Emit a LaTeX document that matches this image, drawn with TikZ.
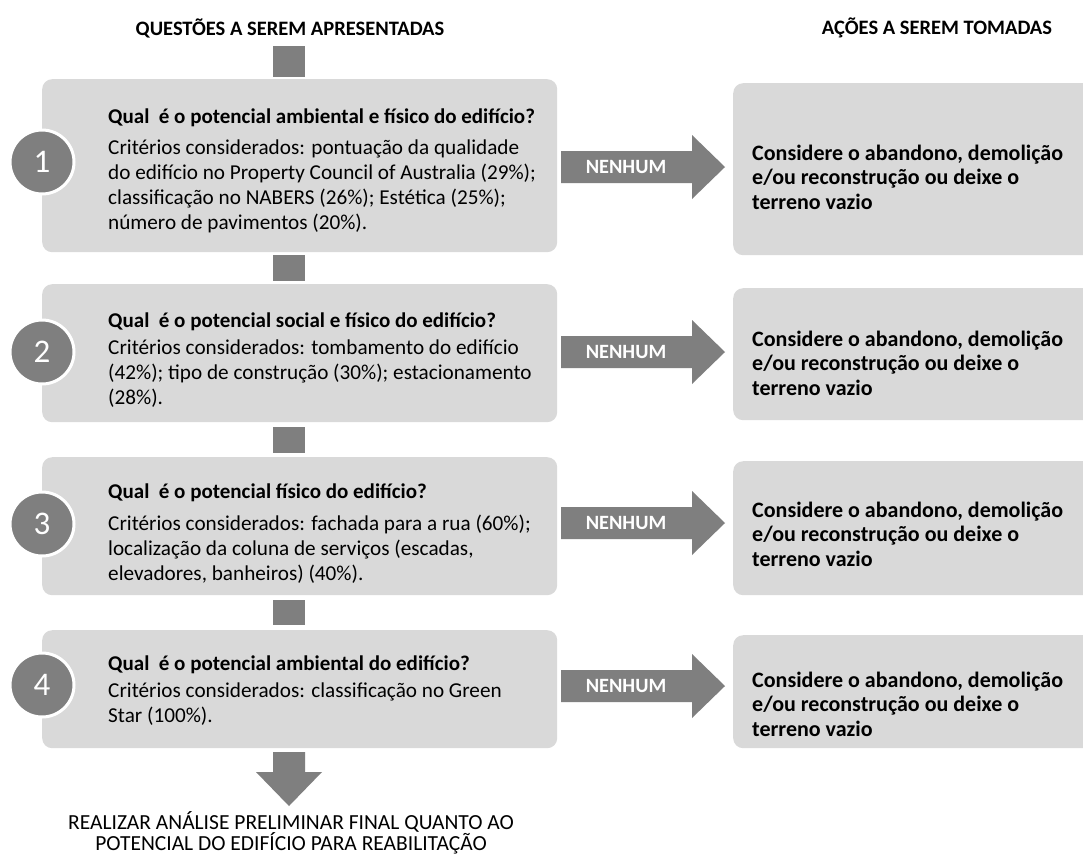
\documentclass[tikz,border=0pt]{standalone}
\usepackage{fontspec}
\setmainfont{Carlito}
\definecolor{boxgray}{HTML}{D9D9D9}
\definecolor{dgray}{HTML}{7F7F7F}
\begin{document}
\begin{tikzpicture}[x=1pt,y=-1pt,
  qbox/.style={fill=boxgray, rounded corners=10pt, inner sep=0pt, anchor=north west, minimum width=515pt},
  abox/.style={fill=boxgray, rounded corners=10pt, inner sep=0pt, anchor=north west, minimum width=362pt},
  numcircle/.style={circle, fill=dgray, draw=white, line width=3pt, minimum size=64pt, inner sep=0pt, text=white, font=\fontsize{33}{38}\selectfont},
  qtitle/.style={anchor=base west, inner sep=0pt, font=\bfseries\fontsize{21}{25}\selectfont},
  qbody/.style={anchor=north west, inner sep=0pt, align=left, font=\fontsize{21.2}{25}\selectfont},
  atext/.style={anchor=north west, inner sep=0pt, align=left, font=\bfseries\fontsize{22}{24.2}\selectfont},
  head/.style={inner sep=0pt, font=\bfseries\fontsize{20.5}{24}\selectfont},
  nenhum/.style={inner sep=0pt, text=white, font=\bfseries\fontsize{20.3}{22}\selectfont},
  conn/.style={fill=dgray}
]
\clip (0,0) rectangle (1083,857);
\fill[white] (0,0) rectangle (1083,857);

% headers
\node[head] (h1) at (290,28) {QUESTÕES A SEREM APRESENTADAS};
\node[head] (h2) at (937,28) {AÇÕES A SEREM TOMADAS};

% left boxes
\node[qbox, minimum height=173pt] (q1) at (42,79) {};
\node[qbox, minimum height=138pt] (q2) at (42,284) {};
\node[qbox, minimum height=138pt] (q3) at (42,457) {};
\node[qbox, minimum height=118pt] (q4) at (42,630) {};

% right boxes
\node[abox, minimum height=172pt] (a1) at (733,83) {};
\node[abox, minimum height=132pt] (a2) at (733,288) {};
\node[abox, minimum height=134pt] (a3) at (733,461) {};
\node[abox, minimum height=113pt] (a4) at (733,635) {};

% vertical connectors
\fill[conn] (273,46) rectangle (305,77);
\fill[conn] (273,255) rectangle (305,281);
\fill[conn] (273,427) rectangle (305,453);
\fill[conn] (273,600) rectangle (305,625);
% final down arrow
\fill[conn] (273,752) -- (305,752) -- (305,772) -- (322,772) -- (289,806) -- (256,772) -- (273,772) -- cycle;
\node[inner sep=0pt, align=center, font=\fontsize{21.5}{21.5}\selectfont] (fin) at (291,833) {REALIZAR ANÁLISE PRELIMINAR FINAL QUANTO AO\\POTENCIAL DO EDIFÍCIO PARA REABILITAÇÃO};

% circles
\node[numcircle] (c1) at (42,162) {1};
\node[numcircle] (c2) at (42,352) {2};
\node[numcircle] (c3) at (42,524) {3};
\node[numcircle] (c4) at (42,685) {4};

% question texts
\node[qtitle] (t1) at (108,123) {Qual\ \ é o potencial ambiental e físico do edifício?};
\node[qbody] (b1) at (108,140) {Critérios considerados: pontuação da qualidade\\do edifício no Property Council of Australia (29\%);\\classificação no NABERS (26\%); Estética (25\%);\\número de pavimentos (20\%).};

\node[qtitle] (t2) at (108,327) {Qual\ \ é o potencial social e físico do edifício?};
\node[qbody] (b2) at (108,340) {Critérios considerados: tombamento do edifício\\(42\%); tipo de construção (30\%); estacionamento\\(28\%).};

\node[qtitle] (t3) at (108,498) {Qual\ \ é o potencial físico do edifício?};
\node[qbody] (b3) at (108,515) {Critérios considerados: fachada para a rua (60\%);\\localização da coluna de serviços (escadas,\\elevadores, banheiros) (40\%).};

\node[qtitle] (t4) at (108,670) {Qual\ \ é o potencial ambiental do edifício?};
\node[qbody] (b4) at (108,683) {Critérios considerados: classificação no Green\\Star (100\%).};

% arrows NENHUM
\foreach \y/\n in {167/1,352/2,523/3,686/4}{
  \fill[conn] (561,\y-16) -- (692,\y-16) -- (692,\y-32) -- (725,\y) -- (692,\y+32) -- (692,\y+16) -- (561,\y+16) -- cycle;
  \node[nenhum] (n\n) at (626,\y) {NENHUM};
}

% action texts
\node[atext] (x1) at (752,145) {Considere o abandono, demolição\\e/ou reconstrução ou deixe o\\terreno vazio};
\node[atext] (x2) at (752,331) {Considere o abandono, demolição\\e/ou reconstrução ou deixe o\\terreno vazio};
\node[atext] (x3) at (752,502) {Considere o abandono, demolição\\e/ou reconstrução ou deixe o\\terreno vazio};
\node[atext] (x4) at (752,672) {Considere o abandono, demolição\\e/ou reconstrução ou deixe o\\terreno vazio};
\end{tikzpicture}
\end{document}
